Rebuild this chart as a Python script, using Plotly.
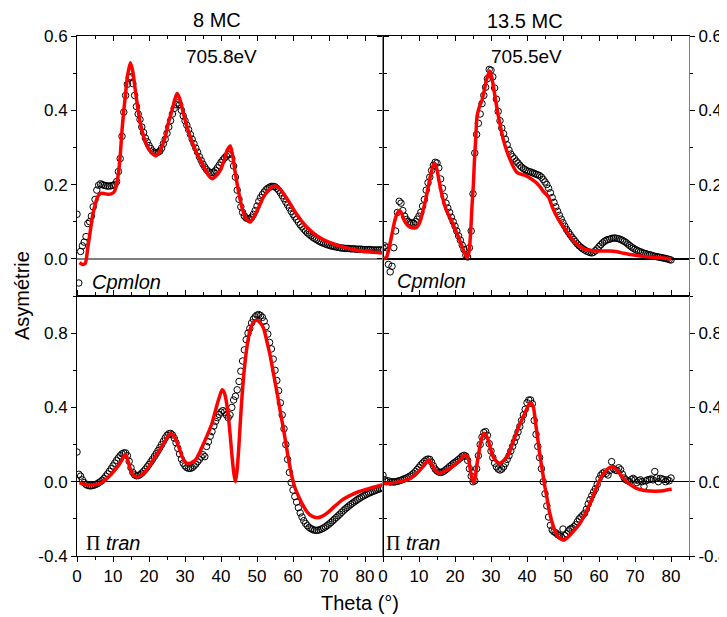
import plotly.graph_objects as go
from plotly.subplots import make_subplots

# ---------------- data (theta in degrees, asymmetry) ----------------
STEP = 0.5

# top-left: 8 MC, Cpmlon, measured (theta = 0, 0.5, 1, ...)
tl_data = [
    0.12, -0.065, 0.02, 0.035, 0.045, 0.06, 0.095, 0.10, 0.115, 0.14,
    0.16, 0.185, 0.198, 0.202, 0.2, 0.198, 0.197, 0.196, 0.196, 0.197,
    0.198, 0.2, 0.208, 0.235, 0.27, 0.33, 0.395, 0.44, 0.47, 0.488,
    0.49, 0.472, 0.44, 0.41, 0.39, 0.375, 0.355, 0.34, 0.325, 0.315,
    0.305, 0.297, 0.29, 0.287, 0.285, 0.287, 0.29, 0.298, 0.31, 0.322,
    0.338, 0.355, 0.372, 0.39, 0.405, 0.415, 0.42, 0.415, 0.4, 0.385,
    0.372, 0.36, 0.348, 0.335, 0.322, 0.31, 0.298, 0.287, 0.275, 0.265,
    0.255, 0.247, 0.24, 0.235, 0.232, 0.232, 0.234, 0.238, 0.245, 0.252,
    0.26, 0.266, 0.272, 0.277, 0.28, 0.282, 0.27, 0.25, 0.22, 0.185,
    0.16, 0.14, 0.125, 0.115, 0.11, 0.108, 0.108, 0.112, 0.12, 0.13,
    0.142, 0.155, 0.165, 0.173, 0.18, 0.186, 0.19, 0.193, 0.195, 0.195,
    0.194, 0.19, 0.185, 0.178, 0.17, 0.162, 0.153, 0.145, 0.137, 0.128,
    0.12, 0.113, 0.106, 0.099, 0.092, 0.086, 0.08, 0.075, 0.07, 0.066,
    0.062, 0.058, 0.055, 0.052, 0.049, 0.046, 0.044, 0.042, 0.04, 0.038,
    0.037, 0.035, 0.034, 0.033, 0.032, 0.031, 0.03, 0.029, 0.029, 0.028,
    0.028, 0.028, 0.027, 0.027, 0.027, 0.026, 0.026, 0.026, 0.026, 0.025,
    0.025, 0.025, 0.025, 0.025, 0.024, 0.024, 0.024, 0.024, 0.024, 0.024, 0.024,
]
tl_fit_theta = [0.7, 1.5, 2.3, 3.0, 3.7, 4.4, 5.1, 5.8, 6.5, 7.5, 8.5, 9.5, 10.3, 11.0,
                11.6, 12.1, 12.5, 13.0, 13.4, 14.0, 14.8, 15.5, 16.2, 16.9, 17.6, 18.5,
                19.4, 20.5, 21.5, 22.0, 23.0, 24.5, 25.5, 26.4, 27.2, 27.8, 28.5, 29.6,
                30.5, 31.5, 33.0, 34.3, 35.5, 36.5, 37.5, 38.5, 39.8, 41.0, 41.7, 42.6,
                43.3, 44.0, 44.9, 45.8, 47.0, 48.1, 49.3, 50.5, 51.7, 52.8, 54.0, 55.1,
                56.2, 57.4, 59.0, 60.6, 62.4, 64.3, 66.5, 69.0, 71.3, 73.6, 76.0, 78.2,
                81.0, 84.7]
tl_fit = [-0.01, -0.015, -0.012, 0.03, 0.076, 0.12, 0.148, 0.168, 0.176, 0.176, 0.174,
          0.175, 0.18, 0.2, 0.238, 0.29, 0.346, 0.40, 0.436, 0.49, 0.528, 0.505, 0.454,
          0.405, 0.364, 0.33, 0.305, 0.288, 0.279, 0.278, 0.29, 0.328, 0.37, 0.40, 0.43,
          0.445, 0.432, 0.39, 0.358, 0.328, 0.29, 0.265, 0.243, 0.225, 0.216, 0.222,
          0.238, 0.27, 0.292, 0.304, 0.275, 0.229, 0.18, 0.139, 0.108, 0.099, 0.115,
          0.139, 0.165, 0.18, 0.192, 0.196, 0.19, 0.175, 0.152, 0.126, 0.102, 0.081,
          0.063, 0.049, 0.04, 0.033, 0.027, 0.022, 0.019, 0.016]

# top-right: 13.5 MC, Cpmlon
tr_data = [
    0.03, 0.035, 0.03, -0.015, -0.035, -0.02, 0.03, 0.075, 0.125, 0.155,
    0.15, 0.13, 0.115, 0.106, 0.1, 0.098, 0.096, 0.096, 0.1, 0.107,
    0.115, 0.125, 0.142, 0.16, 0.185, 0.205, 0.22, 0.238, 0.252, 0.26,
    0.258, 0.245, 0.215, 0.19, 0.168, 0.15, 0.137, 0.125, 0.112, 0.1,
    0.088, 0.075, 0.062, 0.05, 0.037, 0.025, 0.01, 0.005, 0.03, 0.075,
    0.175, 0.285, 0.335, 0.365, 0.39, 0.418, 0.44, 0.462, 0.485, 0.51,
    0.508, 0.49, 0.46, 0.43, 0.397, 0.372, 0.352, 0.337, 0.322, 0.307,
    0.293, 0.282, 0.275, 0.27, 0.263, 0.258, 0.252, 0.247, 0.243, 0.24,
    0.237, 0.235, 0.234, 0.232, 0.23, 0.228, 0.226, 0.224, 0.22, 0.214,
    0.207, 0.2, 0.19, 0.178, 0.165, 0.152, 0.14, 0.128, 0.117, 0.107,
    0.097, 0.088, 0.079, 0.072, 0.065, 0.058, 0.052, 0.046, 0.04, 0.035,
    0.031, 0.027, 0.024, 0.021, 0.019, 0.017, 0.016, 0.018, 0.022, 0.027,
    0.033, 0.038, 0.043, 0.047, 0.05, 0.052, 0.053, 0.055, 0.056, 0.056,
    0.055, 0.054, 0.052, 0.05, 0.047, 0.044, 0.04, 0.036, 0.032, 0.029,
    0.026, 0.023, 0.021, 0.019, 0.017, 0.015, 0.014, 0.012, 0.011, 0.01,
    0.008, 0.007, 0.006, 0.005, 0.004, 0.003, 0.002, 0.001, 0.0, -0.002,
    -0.003,
]
tr_fit_theta = [0.2, 1.0, 1.8, 2.5, 3.2, 3.9, 4.6, 5.2, 5.7, 6.6, 7.6, 8.5, 9.3, 10.4,
                11.1, 11.8, 12.5, 13.1, 13.6, 14.1, 14.8, 15.3, 15.9, 16.6, 17.3, 18.2,
                19.2, 20.1, 21.0, 21.7, 22.4, 23.3, 23.7, 24.0, 24.4, 24.7, 25.1, 25.4,
                25.8, 26.1, 26.8, 27.5, 28.1, 28.7, 29.6, 30.2, 30.7, 31.4, 32.1, 32.8,
                33.5, 34.4, 35.4, 36.3, 37.2, 38.3, 39.5, 40.6, 41.8, 42.8, 43.7, 44.6,
                46.0, 46.9, 47.9, 49.0, 50.2, 51.5, 52.9, 54.3, 55.7, 57.5, 59.4, 61.3,
                63.1, 65.0, 66.8, 68.7, 70.6, 72.9, 75.2, 77.6, 80.0]
tr_fit = [0.0, 0.005, 0.035, 0.067, 0.1, 0.121, 0.13, 0.122, 0.108, 0.093, 0.085, 0.083,
          0.084, 0.103, 0.13, 0.157, 0.19, 0.22, 0.24, 0.256, 0.247, 0.225, 0.193, 0.163,
          0.139, 0.118, 0.099, 0.078, 0.058, 0.04, 0.022, 0.003, 0.01, 0.027, 0.08, 0.139,
          0.2, 0.265, 0.33, 0.382, 0.41, 0.427, 0.452, 0.48, 0.506, 0.49, 0.462, 0.42,
          0.382, 0.348, 0.319, 0.29, 0.265, 0.246, 0.233, 0.228, 0.225, 0.219, 0.211,
          0.203, 0.193, 0.181, 0.166, 0.143, 0.121, 0.102, 0.085, 0.067, 0.049, 0.036,
          0.027, 0.023, 0.021, 0.021, 0.021, 0.019, 0.015, 0.012, 0.009, 0.006, 0.004,
          0.002, 0.0]

# bottom-left: 8 MC, Pi tran
bl_data = [
    0.16, 0.04, 0.03, 0.01, -0.005, -0.015, -0.02, -0.022, -0.022, -0.02,
    -0.016, -0.012, -0.006, 0.0, 0.008, 0.018, 0.03, 0.042, 0.056, 0.07,
    0.085, 0.1, 0.115, 0.128, 0.14, 0.15, 0.155, 0.155, 0.14, 0.11,
    0.075, 0.05, 0.037, 0.032, 0.033, 0.038, 0.046, 0.056, 0.067, 0.08,
    0.093, 0.107, 0.121, 0.136, 0.151, 0.167, 0.183, 0.2, 0.218, 0.235,
    0.25, 0.258, 0.26, 0.252, 0.235, 0.21, 0.18, 0.15, 0.122, 0.1,
    0.085, 0.076, 0.072, 0.072, 0.076, 0.085, 0.095, 0.108, 0.12, 0.133,
    0.145, 0.135, 0.19, 0.215, 0.245, 0.27, 0.3, 0.325, 0.345, 0.362,
    0.375, 0.383, 0.375, 0.36, 0.345, 0.36, 0.4, 0.44, 0.46, 0.495,
    0.54, 0.595, 0.65, 0.71, 0.765, 0.8, 0.825, 0.855, 0.875, 0.888,
    0.897, 0.9, 0.895, 0.885, 0.865, 0.835, 0.795, 0.75, 0.715, 0.66,
    0.6, 0.545, 0.49, 0.425, 0.36, 0.285, 0.2, 0.12, 0.05, -0.005,
    -0.045, -0.08, -0.11, -0.14, -0.168, -0.19, -0.21, -0.225, -0.237, -0.246,
    -0.253, -0.258, -0.261, -0.262, -0.261, -0.258, -0.254, -0.249, -0.243, -0.236,
    -0.228, -0.22, -0.211, -0.202, -0.193, -0.184, -0.175, -0.165, -0.156, -0.147,
    -0.139, -0.131, -0.123, -0.116, -0.109, -0.102, -0.095, -0.089, -0.083, -0.077,
    -0.072, -0.067, -0.062, -0.058, -0.054, -0.05, -0.046, -0.042, -0.039, -0.036, -0.033,
]
bl_fit_theta = [0.7, 2.0, 3.7, 5.0, 6.5, 8.0, 9.3, 10.5, 11.6, 12.5, 13.2, 13.6, 14.1,
                14.7, 15.3, 16.0, 16.7, 17.8, 19.0, 20.4, 21.7, 23.0, 24.1, 25.0, 25.7,
                26.4, 27.3, 28.2, 29.2, 30.0, 30.6, 31.5, 32.9, 34.0, 35.2, 36.4, 37.5,
                38.5, 39.3, 40.3, 40.9, 41.5, 42.1, 42.6, 43.1, 43.6, 44.0, 44.4, 44.9,
                45.3, 45.8, 46.3, 46.8, 47.4, 48.1, 49.0, 50.0, 50.9, 51.8, 52.7, 53.7,
                54.6, 55.6, 56.5, 57.4, 58.5, 59.7, 60.6, 61.6, 62.7, 63.9, 65.2, 66.7,
                68.2, 69.9, 71.7, 73.6, 75.8, 78.2, 80.5, 82.9, 85.0]
bl_fit = [-0.005, -0.014, -0.018, -0.015, -0.009, 0.012, 0.036, 0.062, 0.09, 0.118,
          0.142, 0.145, 0.117, 0.075, 0.045, 0.03, 0.024, 0.034, 0.054, 0.093, 0.135,
          0.172, 0.207, 0.236, 0.257, 0.255, 0.234, 0.19, 0.135, 0.108, 0.099, 0.1,
          0.117, 0.155, 0.207, 0.26, 0.315, 0.385, 0.441, 0.495, 0.48, 0.43, 0.34, 0.24,
          0.13, 0.04, 0.0, 0.05, 0.17, 0.3, 0.45, 0.57, 0.665, 0.75, 0.819, 0.858,
          0.869, 0.855, 0.828, 0.76, 0.675, 0.58, 0.477, 0.375, 0.279, 0.15, 0.027,
          -0.035, -0.081, -0.125, -0.162, -0.185, -0.194, -0.185, -0.162, -0.13,
          -0.099, -0.075, -0.054, -0.04, -0.027, -0.016]

# bottom-right: 13.5 MC, Pi tran
br_data = [
    0.035, 0.01, 0.0, 0.005, -0.002, 0.0, -0.002, 0.0, 0.002, 0.005,
    0.008, 0.012, 0.016, 0.02, 0.025, 0.03, 0.037, 0.045, 0.055, 0.066,
    0.078, 0.09, 0.1, 0.11, 0.118, 0.122, 0.12, 0.105, 0.085, 0.068,
    0.058, 0.052, 0.05, 0.052, 0.058, 0.065, 0.073, 0.082, 0.09, 0.098,
    0.105, 0.112, 0.12, 0.128, 0.138, 0.142, 0.138, 0.115, 0.07, 0.03,
    0.0, 0.005, 0.07, 0.14, 0.2, 0.24, 0.265, 0.27, 0.25, 0.205,
    0.165, 0.13, 0.1, 0.08, 0.068, 0.063, 0.068, 0.08, 0.098, 0.12,
    0.14, 0.165, 0.19, 0.215, 0.24, 0.268, 0.297, 0.33, 0.36, 0.39,
    0.425, 0.44, 0.44, 0.42, 0.33, 0.255, 0.19, 0.13, 0.07, 0.0,
    -0.065, -0.13, -0.19, -0.235, -0.26, -0.27, -0.275, -0.285, -0.29, -0.297,
    -0.255, -0.29, -0.28, -0.265, -0.255, -0.25, -0.243, -0.232, -0.215, -0.2,
    -0.19, -0.18, -0.17, -0.148, -0.12, -0.097, -0.075, -0.055, -0.038, -0.015,
    0.015, 0.035, 0.045, 0.052, 0.045, 0.036, 0.06, 0.108, 0.07, 0.063,
    0.06, 0.075, 0.065, 0.04, 0.02, 0.01, 0.005, 0.0, 0.012, 0.018,
    0.01, -0.005, 0.005, 0.01, 0.0, -0.025, 0.005, 0.01, 0.012, 0.015,
    0.01, 0.055, 0.02, 0.0, 0.018, 0.015, 0.012, 0.0, 0.01, 0.005,
    0.02,
]
br_fit_theta = [0.1, 1.5, 3.3, 5.0, 7.0, 8.5, 9.8, 11.3, 12.6, 13.2, 13.9, 14.8, 15.8,
                17.0, 18.6, 20.0, 20.9, 21.9, 22.6, 23.2, 23.7, 24.2, 24.6, 25.3, 25.7,
                26.0, 26.5, 26.9, 27.5, 28.1, 28.6, 29.2, 29.9, 30.6, 31.5, 32.5, 33.6,
                34.8, 35.7, 36.7, 37.8, 39.0, 40.0, 40.8, 41.3, 41.8, 42.3, 42.7, 43.2,
                43.6, 44.1, 44.5, 45.0, 45.5, 46.1, 46.8, 47.7, 48.7, 50.1, 51.0, 51.9,
                53.3, 54.7, 56.1, 57.5, 58.7, 59.8, 60.8, 61.7, 62.6, 63.5, 64.4, 65.4,
                66.5, 67.7, 69.0, 70.4, 72.2, 74.2, 76.9, 78.5, 80.2]
br_fit = [-0.009, -0.008, -0.005, 0.002, 0.013, 0.03, 0.054, 0.085, 0.117, 0.105, 0.081,
          0.055, 0.045, 0.055, 0.072, 0.092, 0.108, 0.128, 0.144, 0.14, 0.126, 0.07,
          0.027, -0.005, 0.03, 0.081, 0.14, 0.189, 0.24, 0.261, 0.25, 0.225, 0.175,
          0.135, 0.11, 0.099, 0.115, 0.144, 0.19, 0.243, 0.3, 0.351, 0.395, 0.423, 0.42,
          0.4, 0.33, 0.27, 0.2, 0.14, 0.08, 0.03, -0.03, -0.081, -0.15, -0.207, -0.26,
          -0.297, -0.315, -0.305, -0.288, -0.258, -0.225, -0.175, -0.117, -0.06, -0.009,
          0.03, 0.054, 0.072, 0.081, 0.072, 0.054, 0.025, 0.0, -0.02, -0.036, -0.046,
          -0.05, -0.05, -0.046, -0.041]

top_titles = ["8 MC", "13.5 MC"]
energies = ["705.8eV", "705.5eV"]
top_label = "Cpmlon"
x_ticks = [0, 10, 20, 30, 40, 50, 60, 70, 80]
top_y_ticks = [0.0, 0.2, 0.4, 0.6]
top_y_text = ["0.0", "0.2", "0.4", "0.6"]
bot_y_ticks = [-0.4, 0.0, 0.4, 0.8]
bot_y_text = ["-0.4", "0.0", "0.4", "0.8"]

# ---------------- figure ----------------
# The page body has an 8px margin, so the figure is drawn 8px in from the top-left.
OFF = 8
W, H = 727 - OFF, 617 - OFF
PL, PR, PT, PB = 77, 689, 36, 556          # plot-area edges in page pixels
ML, MR, MT, MB = PL - OFF, W + OFF - PR, PT - OFF, H + OFF - PB
PW, PH = W - ML - MR, H - MT - MB
FONT = "Liberation Sans, Arial, sans-serif"


def px2paper(px, py):
    return (px - PL) / PW, (PB - py) / PH


fig = make_subplots(rows=2, cols=2, horizontal_spacing=0, vertical_spacing=0)

panels = [
    (1, 1, tl_data, tl_fit_theta, tl_fit),
    (1, 2, tr_data, tr_fit_theta, tr_fit),
    (2, 1, bl_data, bl_fit_theta, bl_fit),
    (2, 2, br_data, br_fit_theta, br_fit),
]
for r, c, data, ft, fv in panels:
    theta = [STEP * i for i in range(len(data))]
    fig.add_trace(go.Scatter(x=theta, y=data, mode="markers",
                             marker=dict(symbol="circle-open", size=6.5, color="black",
                                         line=dict(width=1, color="black")),
                             showlegend=False, hoverinfo="skip"), row=r, col=c)
    fig.add_trace(go.Scatter(x=ft, y=fv, mode="lines",
                             line=dict(color="#ff0000", width=3.5, shape="spline", smoothing=0.6),
                             showlegend=False, hoverinfo="skip"), row=r, col=c)

tickfont = dict(family=FONT, size=17, color="black")
minor_x = [5, 15, 25, 35, 45, 55, 65, 75, 85]
xcommon = dict(range=[0, 85], tickvals=x_ticks, ticklen=5, tickwidth=1, tickcolor="black",
               showgrid=False, zeroline=False, showline=True, linecolor="black", linewidth=1,
               tickfont=tickfont, automargin=False)
for name in ["xaxis", "xaxis2"]:
    fig.layout[name].update(**xcommon, side="top", ticks="inside", mirror="allticks",
                            showticklabels=False,
                            minor=dict(tickvals=minor_x, ticks="inside", ticklen=3,
                                       tickcolor="black"))
for name in ["xaxis3", "xaxis4"]:
    fig.layout[name].update(**xcommon, side="bottom", ticks="outside", mirror="allticks",
                            showticklabels=True,
                            minor=dict(tickvals=minor_x, ticks="outside", ticklen=3,
                                       tickcolor="black"))

ycommon = dict(ticks="outside", ticklen=5, tickwidth=1, tickcolor="black", showgrid=False,
               showline=True, linewidth=1, mirror="allticks", tickmode="array",
               tickfont=tickfont, zeroline=True, automargin=False)
top_minor = dict(tickvals=[-0.1, 0.1, 0.3, 0.5], ticks="outside", ticklen=3, tickcolor="black")
bot_minor = dict(tickvals=[-0.2, 0.2, 0.6, 1.0], ticks="outside", ticklen=3, tickcolor="black")
fig.layout.yaxis.update(**ycommon, range=[-0.1, 0.6], tickvals=top_y_ticks, ticktext=top_y_text,
                        side="left", linecolor="black", zerolinecolor="#808080", zerolinewidth=2,
                        minor=top_minor)
fig.layout.yaxis2.update(**ycommon, range=[-0.1, 0.6], tickvals=top_y_ticks, ticktext=top_y_text,
                         side="right", linecolor="#808080", zerolinecolor="black",
                         zerolinewidth=1.5, minor=top_minor)
fig.layout.yaxis3.update(**ycommon, range=[-0.4, 1.0], tickvals=bot_y_ticks, ticktext=bot_y_text,
                         side="left", linecolor="black", zerolinecolor="black", zerolinewidth=1,
                         minor=bot_minor)
fig.layout.yaxis4.update(**ycommon, range=[-0.4, 1.0], tickvals=bot_y_ticks, ticktext=bot_y_text,
                         side="right", linecolor="#808080", zerolinecolor="black",
                         zerolinewidth=1, minor=bot_minor)

annots = []


def add_text(text, px, py, size=20, xanchor="center", angle=0):
    x, y = px2paper(px, py)
    annots.append(dict(text=text, x=x, y=y, xref="paper", yref="paper", showarrow=False,
                       xanchor=xanchor, yanchor="middle", textangle=angle,
                       font=dict(family=FONT, size=size, color="black")))


add_text(top_titles[0], 217, 20)
add_text(top_titles[1], 525, 21)
add_text(energies[0], 221, 57, size=19)
add_text(energies[1], 526, 57, size=19)
add_text("<i>" + top_label + "</i>", 90, 282, xanchor="left")
add_text("<i>" + top_label + "</i>", 395, 281, xanchor="left")
pi_txt = '<span style="font-family:Liberation Serif, Times New Roman, serif">\u03a0</span> <i>tran</i>'
add_text(pi_txt, 84, 543, xanchor="left")
add_text(pi_txt, 384, 543, xanchor="left")
add_text("Asymétrie", 22, 296, angle=-90)
add_text("Theta (°)", 360, 603)

fig.update_layout(width=W, height=H, margin=dict(l=ML, r=MR, t=MT, b=MB, autoexpand=False),
                  plot_bgcolor="white", paper_bgcolor="white",
                  font=dict(family=FONT, color="black"), annotations=annots)

fig.write_html("out.html")
